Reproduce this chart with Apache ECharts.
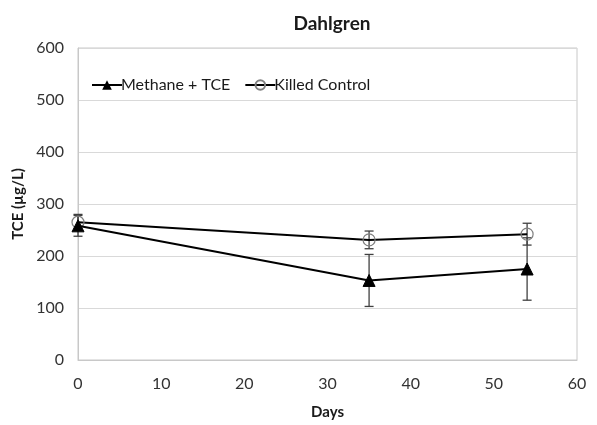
<!DOCTYPE html>
<html>
<head>
<meta charset="utf-8">
<script src="https://cdn.jsdelivr.net/npm/echarts@6/dist/echarts.min.js"></script>
<style>
  html, body { margin: 0; padding: 0; background: #fff; }
  #chart { width: 597px; height: 425px; }
</style>
</head>
<body>
<div id="chart"></div>
<script>
// Sampling days and TCE concentrations (µg/L) with standard deviations
const days = [0, 35, 54];
const methaneTce = [258, 153, 175];
const methaneTceErr = [20, 50, 60];
const killedControl = [265, 231, 242];
const killedControlErr = [15, 17, 21];

const xTicks = { min: 0, max: 60, interval: 10 };
const yTicks = { min: 0, max: 600, interval: 100 };

const FONT = 'Lato';

function pairs(xs, ys) {
  return xs.map((x, i) => [x, ys[i]]);
}

function errorRows(xs, ys, errs) {
  return xs.map((x, i) => [x, ys[i] - errs[i], ys[i] + errs[i]]);
}

// Vertical whiskers with short caps
function errorBarSeries(rows, color) {
  return {
    type: 'custom',
    data: rows,
    silent: true,
    z: 1,
    renderItem: function (params, api) {
      const x = api.value(0);
      const lo = api.coord([x, api.value(1)]);
      const hi = api.coord([x, api.value(2)]);
      const cap = 4.5;
      const style = { stroke: color, lineWidth: 1.3 };
      return {
        type: 'group',
        children: [
          { type: 'line', shape: { x1: lo[0], y1: lo[1], x2: hi[0], y2: hi[1] }, style: style },
          { type: 'line', shape: { x1: lo[0] - cap, y1: lo[1], x2: lo[0] + cap, y2: lo[1] }, style: style },
          { type: 'line', shape: { x1: hi[0] - cap, y1: hi[1], x2: hi[0] + cap, y2: hi[1] }, style: style }
        ]
      };
    }
  };
}

const chart = echarts.init(document.getElementById('chart'), null, { renderer: 'canvas' });

chart.setOption({
  animation: false,
  backgroundColor: '#fff',
  title: {
    text: 'Dahlgren',
    left: 327,
    textAlign: 'center',
    top: 9,
    textStyle: { fontFamily: FONT, fontSize: 19, fontWeight: 'bold', color: '#1a1a1a' }
  },
  legend: {
    left: 86,
    top: 72,
    itemGap: 14,
    itemWidth: 30,
    itemHeight: 12,
    textStyle: { fontFamily: FONT, fontSize: 16, color: '#1a1a1a', padding: [0, 0, 0, -6] },
    data: ['Methane + TCE', 'Killed Control']
  },
  grid: {
    left: 78,
    right: 20,
    top: 48,
    bottom: 61,
    show: true,
    borderColor: '#c8c8c8',
    borderWidth: 1
  },
  xAxis: {
    type: 'value',
    min: xTicks.min,
    max: xTicks.max,
    interval: xTicks.interval,
    name: 'Days',
    nameLocation: 'middle',
    nameGap: 45,
    nameTextStyle: { fontFamily: FONT, fontSize: 15, fontWeight: 'bold', color: '#1a1a1a' },
    axisLine: { show: true, lineStyle: { color: '#c8c8c8' } },
    axisTick: { show: false },
    splitLine: { show: false },
    axisLabel: { fontFamily: FONT, fontSize: 16, color: '#333', margin: 16 }
  },
  yAxis: {
    type: 'value',
    min: yTicks.min,
    max: yTicks.max,
    interval: yTicks.interval,
    name: 'TCE (µg/L)',
    nameLocation: 'middle',
    nameGap: 50,
    nameTextStyle: { fontFamily: FONT, fontSize: 15, fontWeight: 'bold', color: '#1a1a1a' },
    axisLine: { show: true, lineStyle: { color: '#c8c8c8' } },
    axisTick: { show: false },
    splitLine: { show: true, lineStyle: { color: '#d9d9d9', width: 1 } },
    axisLabel: { fontFamily: FONT, fontSize: 16, color: '#333', margin: 14 }
  },
  series: [
    errorBarSeries(errorRows(days, killedControl, killedControlErr), '#404040'),
    errorBarSeries(errorRows(days, methaneTce, methaneTceErr), '#404040'),
    {
      name: 'Methane + TCE',
      type: 'line',
      data: pairs(days, methaneTce),
      z: 3,
      symbol: 'triangle',
      symbolSize: 12,
      lineStyle: { color: '#000', width: 2 },
      itemStyle: { color: '#000', borderColor: '#000' }
    },
    {
      name: 'Killed Control',
      type: 'line',
      data: pairs(days, killedControl),
      z: 2,
      symbol: 'circle',
      symbolSize: 12,
      lineStyle: { color: '#000', width: 2 },
      itemStyle: { color: 'rgba(255,255,255,0)', borderColor: '#808080', borderWidth: 1.2 }
    }
  ]
});
</script>
</body>
</html>
